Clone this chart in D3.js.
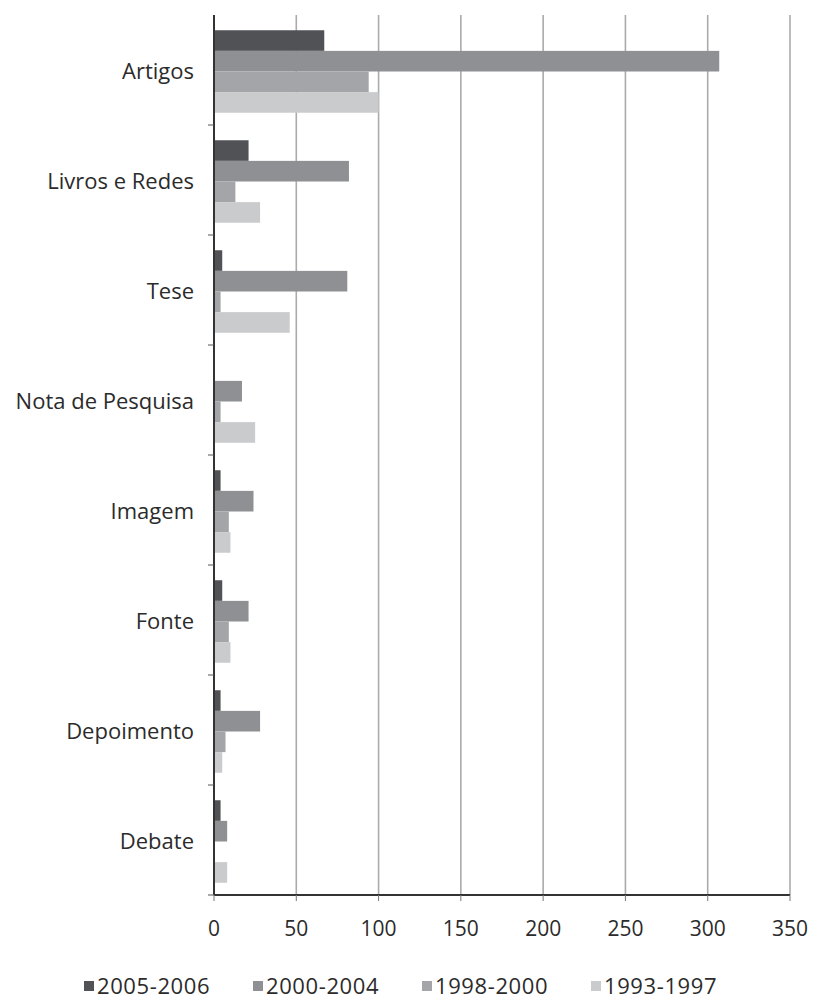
<!DOCTYPE html>
<html>
<head>
<meta charset="utf-8">
<script src="https://cdn.jsdelivr.net/npm/d3@7"></script>
<style>
  html, body { margin: 0; padding: 0; background: #fff; }
  svg { display: block; }
  text { font-family: "Open Sans", sans-serif; fill: #2b2b2b; }
</style>
</head>
<body>
<svg id="chart" width="814" height="999"></svg>
<script>
const categories = ["Artigos", "Livros e Redes", "Tese", "Nota de Pesquisa", "Imagem", "Fonte", "Depoimento", "Debate"];
const seriesNames = ["2005-2006", "2000-2004", "1998-2000", "1993-1997"];
const s2005_2006 = [67, 21, 5, 0, 4, 5, 4, 4];
const s2000_2004 = [307, 82, 81, 17, 24, 21, 28, 8];
const s1998_2000 = [94, 13, 4, 4, 9, 9, 7, 0];
const s1993_1997 = [100, 28, 46, 25, 10, 10, 5, 8];
const seriesValues = [s2005_2006, s2000_2004, s1998_2000, s1993_1997];
const xTicks = [0, 50, 100, 150, 200, 250, 300, 350];
const colors = ["#505256", "#8e9093", "#a3a5a8", "#c9cbcd"];

const svg = d3.select("#chart");
const mLeft = 214, mRight = 790, mTop = 15, mBottom = 895;

const x = d3.scaleLinear().domain([0, 350]).range([mLeft, mRight]);
const y0 = d3.scaleBand().domain(categories).range([mTop + 1.5, mBottom + 1.5]).paddingInner(0.25).paddingOuter(0.125);
const y1 = d3.scaleBand().domain(seriesNames).range([0, y0.bandwidth()]);
const yCat = d3.scaleBand().domain(categories).range([mTop, mBottom]);

// gridlines
svg.append("g").selectAll("line").data(xTicks.filter(d => d > 0)).join("line")
  .attr("x1", d => x(d)).attr("x2", d => x(d))
  .attr("y1", mTop).attr("y2", mBottom)
  .attr("stroke", "#ababab").attr("stroke-width", 1.6);

// bars
const rows = [];
categories.forEach((c, i) => seriesNames.forEach((s, j) => rows.push({c, s, j, v: seriesValues[j][i]})));
svg.append("g").selectAll("rect").data(rows).join("rect")
  .attr("x", x(0))
  .attr("y", d => y0(d.c) + y1(d.s))
  .attr("width", d => x(d.v) - x(0))
  .attr("height", y1.bandwidth())
  .attr("fill", d => colors[d.j]);

// left axis
svg.append("line").attr("x1", mLeft).attr("x2", mLeft).attr("y1", mTop).attr("y2", mBottom)
  .attr("stroke", "#333").attr("stroke-width", 2);
svg.append("g").selectAll("line").data(categories).join("line")
  .attr("x1", mLeft - 6).attr("x2", mLeft)
  .attr("y1", d => yCat(d) + yCat.bandwidth()).attr("y2", d => yCat(d) + yCat.bandwidth())
  .attr("stroke", "#555").attr("stroke-width", 1);
svg.append("g").selectAll("text").data(categories).join("text")
  .attr("x", 194).attr("y", d => yCat(d) + yCat.bandwidth() / 2 + 1)
  .attr("dy", "0.35em").attr("text-anchor", "end")
  .attr("font-size", 22).text(d => d);

// bottom axis
svg.append("line").attr("x1", mLeft).attr("x2", mRight).attr("y1", mBottom).attr("y2", mBottom)
  .attr("stroke", "#333").attr("stroke-width", 2);
svg.append("g").selectAll("line").data(xTicks).join("line")
  .attr("x1", d => x(d)).attr("x2", d => x(d)).attr("y1", mBottom).attr("y2", mBottom + 6)
  .attr("stroke", "#777").attr("stroke-width", 1);
svg.append("g").selectAll("text").data(xTicks).join("text")
  .attr("x", d => x(d)).attr("y", 929).attr("dy", "0.35em")
  .attr("text-anchor", "middle").attr("font-size", 21).text(d => d);

// legend
const lg = svg.append("g").selectAll("g").data(seriesNames).join("g")
  .attr("transform", (d, i) => `translate(${84 + i * 169}, 0)`);
lg.append("rect").attr("x", 0).attr("y", 981).attr("width", 10).attr("height", 10)
  .attr("fill", (d, i) => colors[i]);
lg.append("text").attr("x", 13).attr("y", 986).attr("dy", "0.35em")
  .attr("font-size", 22).attr("letter-spacing", 0.6).text(d => d);
</script>
</body>
</html>
